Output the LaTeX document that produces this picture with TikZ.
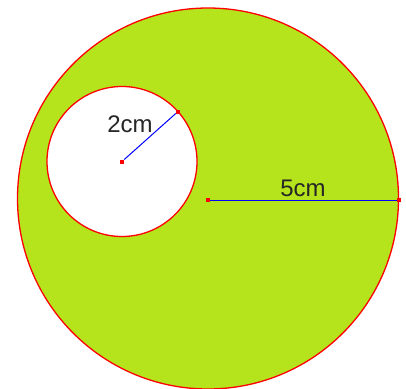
\documentclass[tikz,border=0pt]{standalone}
\usepackage{fontspec}
\setmainfont{Liberation Sans}
\definecolor{lime}{RGB}{181,228,29}
\begin{document}
\begin{tikzpicture}[x=1pt,y=-1pt,
  lbl/.style={font=\fontsize{24}{24}\selectfont, text=black!85, inner sep=0pt},
  dotpt/.style={fill=red, draw=none, minimum size=4pt, inner sep=0pt, rectangle},
  rim/.style={draw=red, line width=1.3pt},
  radline/.style={draw=blue, line width=1pt}]
\useasboundingbox (0,0) rectangle (406,388);
\coordinate (O) at (208,198.5);
\coordinate (C) at (122,161.5);
\fill[lime, rim] (O) circle (190.5pt);
\fill[white, rim] (C) circle (75pt);
\node[dotpt] (c0) at (122,161.5) {};
\node[dotpt] (c1) at (178,111.5) {};
\node[dotpt] (b0) at (208,200) {};
\node[dotpt] (b1) at (399,200) {};
\draw[radline] (c0) -- (c1);
\draw[radline] (b0) -- (b1);
\node[dotpt] at (c0) {};
\node[dotpt] at (c1) {};
\node[dotpt] at (b0) {};
\node[dotpt] at (b1) {};
\node[lbl] (l2) at (130,124) {2cm};
\node[lbl] (l5) at (303,188) {5cm};
\end{tikzpicture}
\end{document}
